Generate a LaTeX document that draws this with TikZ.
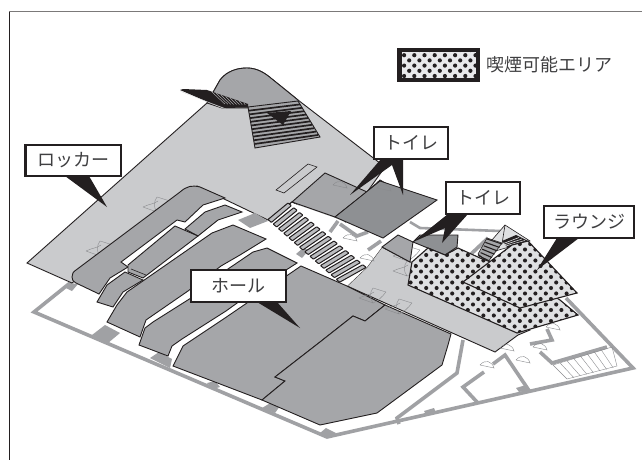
\documentclass[tikz,border=0pt]{standalone}
\usepackage{fontspec}
\newfontfamily\cjk{Noto Sans CJK JP}
\definecolor{ink}{HTML}{231F20}
\definecolor{floorc}{HTML}{CACBCD}
\definecolor{hallc}{HTML}{A5A6A9}
\definecolor{toilc}{HTML}{8E9093}
\definecolor{wallc}{HTML}{A0A1A4}
\definecolor{smokec}{HTML}{DFE0E2}
\definecolor{txt}{HTML}{3F3F41}
\definecolor{doorc}{HTML}{8A8B8E}
\tikzset{
 room/.style={draw=ink,line width=0.9pt,line join=miter,fill=#1},
 wall/.style={draw=wallc,line width=3.6pt,line join=miter},
 doorline/.style={draw=doorc,line width=0.4pt},
 labelbox/.style={draw=ink,line width=2.4pt,fill=white,inner sep=0pt,font=\cjk\fontsize{18}{20}\selectfont,text=txt},
 pointer/.style={fill=ink,draw=none},
 pillar/.style={fill=wallc,draw=none},
}
\newcommand{\doorpair}[2]{%
 \draw[doorline,shift={(#1,#2)}] (-14,3)--(0,8) .. controls (-4,3) and (-3,-3) .. (0,-7)--(13,-3)
   (-14,3) .. controls (-8,0) and (-3,0) .. (1,-3) (0,8) .. controls (5,6) and (9,2) .. (13,-3);}
\newcommand{\leafdoor}[2]{%
 \draw[doorline,shift={(#1,#2)}] (-7,0)--(7,3) .. controls (5,-4) and (-2,-6) .. (-7,0);}
\newcommand{\dotted}[1]{%
 \begin{scope}\clip #1;
  \fill[ink] \foreach \r in {0,...,42}{\foreach \c in {0,...,24}{
     ({395+\c*10.4+mod(\r,2)*5.2},{222+\r*5.5}) circle (2.05)}};
 \end{scope}}
\begin{document}
\begin{tikzpicture}[x=1pt,y=-1pt]
\useasboundingbox (0,0) rectangle (642,460);
\fill[white] (0,0) rectangle (642,460);
% frame
\draw[draw=ink,line width=1.1pt] (9.5,460)--(9.5,11.5);
\draw[draw=ink!60,line width=1.3pt] (9,11.5)--(642,11.5);
% outer walls
\draw[wall] (70,283)--(34,312)--(327,437)--(633,368)--(566,298);
\draw[wall] (463,340)--(457,373)--(397,418)--(399,424);
\draw[wall] (477,402)--(463,387)--(484,372);
\draw[wall] (493,364)--(505,355)--(530,392);
\draw[wall] (530,344)--(552,340)--(547,329);
\draw[wall] (540,352)--(552,363)--(607,347);
\draw[wall,line width=2.6pt] (410,222)--(420,228)--(500,231);
\draw[wall] (470,255)--(488,238);
\path[pillar] (92,335)--(105,325)--(120,333)--(108,343)--cycle;
\path[pillar] (150,358)--(159,352)--(172,359)--(170,368)--cycle;
\path[pillar] (207,383)--(215,381)--(220,387)--(213,389)--cycle;
\path[pillar] (262,408)--(272,402)--(280,406)--(275,413)--cycle;
\path[pillar] (320,433)--(326,428)--(336,433)--(328,438)--cycle;
\path[pillar] (424,411)--(434,408)--(436,413)--(426,415)--cycle;
\path[pillar] (516,388)--(526,385)--(530,390)--(519,392)--cycle;
\path[pillar] (70,283)--(78,284)--(72,291)--(66,288)--cycle;
% stair lower right
\draw[doorline] (553,365)--(612,347)--(617,366)--(567,379)--cycle;
\foreach \i in {1,...,7}{\draw[doorline] ({553+\i*6.8},{365-\i*2.3})--({567+\i*6.6},{379-\i*1.6});}
% upper floor
\path[room=floorc] (27,263)--(207,103)--(220,80) .. controls (227,71) and (237,68) .. (247,68)
  .. controls (257,68) and (265,73) .. (272,79)--(298,100)--(385,167)--(340,230)--(292,202)--(268,220)--(197,186)--(72,283)--cycle;
% hump
\path[room=hallc] (207,103)--(220,80) .. controls (227,71) and (237,68) .. (247,68)
  .. controls (257,68) and (265,73) .. (272,79)--(298,100)--(298,104)--(248,108)--(222,108)--cycle;
% top flights
\path[fill=ink] (180,90)--(183,89)--(207,90)--(248,104)--(248,107.5)--(222,108)--cycle;
\foreach \i in {1,...,8}{\draw[floorc,line width=0.35pt] ({207+\i*4.6},{90+\i*1.6})--({222+\i*2.9},{104+\i*0.1});}
\path[fill=floorc] (180,91)--(222,108)--(226,108.6)--(183,92.5)--cycle;
\path[room=hallc,draw=ink] (248,107)--(298,101)--(320,137)--(255,148)--cycle;
\foreach \i in {1,...,10}{\draw[ink,line width=1.7pt] ({248+\i*0.64},{107+\i*3.7})--({298+\i*2},{101+\i*3.4});}
\path[fill=ink] (267,113)--(291,111)--(283,125)--cycle;
% small rectangle
\path[room=floorc,line width=0.6pt] (276,190)--(308,164)--(317,167)--(284,193)--cycle;
% doors on the floor
\doorpair{157}{204}\doorpair{100}{248}
% lower band
\path[room=floorc] (347,286)--(367,267)--(382,247)--(410,262)--(460,270)--(530,330)--(518,335)--(495,352)--cycle;
\path[fill=white] (268,221)--(292,203)--(335,218)--(383,239)--(382,247)--(367,267)--(347,286)--(298,266)--(262,245)--cycle;
\draw[wall] (330,232)--(338,221) (340,224)--(357,236)--(368,232) (368,250)--(381,241);
\path[pillar] (238,220)--(255,213)--(268,221)--(250,228)--cycle;
\path[pillar] (296,254)--(303,248)--(309,250)--(302,258)--cycle;
\draw[ink,line width=0.9pt] (292,202)--(268,220);
% hall blocks
\path[room=hallc] (72,277) .. controls (72,274) and (73,272) .. (76,270)--(180,192) .. controls (187,186) and (192,185) .. (200,187)
  --(225,198)--(203,205)--(185,222)--(177,220)--(121,262)--(128,267)--(110,278)--(99,294)--(76,283) .. controls (73,281) and (72,280) .. (72,277)--cycle;
\path[room=hallc] (225,205)--(242,212)--(218,220)--(198,236)--(185,229)--(205,212)--cycle;
\path[room=hallc] (175,226)--(198,236)--(143,278)--(128,272)--(128,265)--cycle;
\draw[ink,line width=0.6pt] (131,269)--(146,275);
\path[room=hallc] (125,272)--(143,280)--(123,292)--(113,307)--(97,302)--(107,285)--cycle;
\path[room=hallc] (233,225)--(266,239)--(240,255)--(221,266)--(188,291)--(146,320)--(140,337)--(107,322)--(117,305)--(127,292)--(212,233)--cycle;
\path[room=hallc] (267,248)--(297,263)--(258,288)--(226,311)--(182,339)--(172,346)--(168,356)--(139,345)--(145,328)--(153,322)--(191,298)--(225,271)--(253,252)--cycle;
\path[room=hallc] (173,366)--(262,400)--(285,381)--(275,377)--(320,342)--(353,316)--(365,321)--(385,305)--(347,286)--(301,266)--(225,318)--(183,346)--cycle;
\path[room=hallc] (262,400)--(320,425)--(377,413)--(442,365)--(448,345)--(451,334)--(385,305)--(365,321)--(353,316)--(320,342)--(275,377)--(285,381)--cycle;
% doors in the corridor and band
\leafdoor{350}{238}\leafdoor{367}{258}
\doorpair{373}{295}\doorpair{399}{306}
\doorpair{407}{268}\doorpair{407}{253}
\leafdoor{553}{327}\leafdoor{540}{347}\leafdoor{523}{360}\leafdoor{507}{348}\leafdoor{487}{365}
% central stairs
\foreach \i in {0,...,13}{
 \path[room=floorc!60!hallc,rounded corners=0.6pt,line width=1pt] ({268+\i*5.25},{219.5+\i*4.6})--({288+\i*5.75},{203+\i*4.75})--({291.4+\i*5.75},{205.6+\i*4.75})--({271.4+\i*5.25},{222.4+\i*4.6})--cycle;}
% toilets
\path[room=hallc] (325,173)--(292,202)--(335,217)--(367,192)--cycle;
\path[room=floorc] (367,192)--(380,180)--(392,187)--(378,198)--cycle;
\path[room=toilc] (335,217)--(380,181)--(437,200)--(383,238)--cycle;
\path[room=hallc] (382,247)--(398,235)--(413,242)--(410,262)--cycle;
\path[room=toilc] (413,242)--(420,235)--(458,235)--(457,247)--(445,255)--cycle;
\leafdoor{340}{185}\leafdoor{384}{188}
% rear pyramid and flights
\path[room=smokec,line width=0.6pt] (505,225)--(530,241)--(478,256)--cycle;
\draw[ink,line width=0.6pt] (505,225)--(502,244);
\path[room=hallc,line width=0.6pt] (487,238)--(502,243)--(488,262)--(478,254)--cycle;
\foreach \i in {0,...,5}{\draw[ink,line width=1.1pt] ({487-\i*1.6},{239+\i*3.4})--({502-\i*2.5},{244+\i*3.4});}
\path[fill=ink] (502,241)--(516,235)--(528,241)--(508,248)--cycle;
\foreach \i in {1,...,3}{\draw[smokec,line width=0.6pt] ({503+\i*1},{242+\i*1.3})--({516+\i*3},{236+\i*1.5});}
% smoking areas
\newcommand{\polyA}{(412,262)--(428,248)--(445,255)--(458,248)--(480,258)--(512,270)--(560,300)--(578,315)--(517,333)--(408,285)--cycle}
\newcommand{\polyB}{(463,282)--(512,245)--(528,241)--(577,293)--(520,308)--cycle}
\path[fill=smokec] \polyA;
\dotted{\polyA}
\draw[ink,line width=1.1pt,line join=miter] \polyA;
\path[fill=smokec] \polyB;
\dotted{\polyB}
\draw[ink,line width=1.1pt,line join=miter] \polyB;
% legend
\node[draw=ink,line width=3pt,fill=smokec!70!white,minimum width=77pt,minimum height=28pt,inner sep=0pt] (legendbox) at (438.5,65) {};
\begin{scope}\clip (399,50) rectangle (478,80);
 \fill[ink] \foreach \r in {0,...,6}{\foreach \c in {0,...,8}{({399+\c*10.2+mod(\r,2)*5.1},{50+\r*5.2}) circle (2.1)}};
\end{scope}
\draw[ink,line width=3pt] (legendbox.south west) rectangle (legendbox.north east);
\node[anchor=west,inner sep=0pt,text=txt,font=\cjk\fontsize{18}{20}\selectfont] (legendtext) at (486,64.5) {喫煙可能エリア};
% pointers
\path[pointer] (65,176)--(107,207)--(89,176)--cycle;
\path[pointer] (381,159)--(350,195)--(392,165)--(403,195)--(403,159)--cycle;
\path[pointer] (448,214)--(413,242)--(445,228)--(442,243)--(468,214)--cycle;
\path[pointer] (557,238)--(537,270)--(579,238)--cycle;
\path[pointer] (257,302)--(300,328)--(277,302)--cycle;
% labels
\node[labelbox,minimum width=95.5pt,minimum height=31.5pt] (locker) at (73.3,160.5) {ロッカー};
\node[labelbox,minimum width=74.5pt,minimum height=32pt] (toiletA) at (411,143) {トイレ};
\node[labelbox,minimum width=74.5pt,minimum height=32pt] (toiletB) at (483,198) {トイレ};
\node[labelbox,minimum width=90pt,minimum height=32pt] (lounge) at (589,222) {ラウンジ};
\node[labelbox,minimum width=95.5pt,minimum height=32pt] (hall) at (238.5,286) {ホール};
\end{tikzpicture}
\end{document}
